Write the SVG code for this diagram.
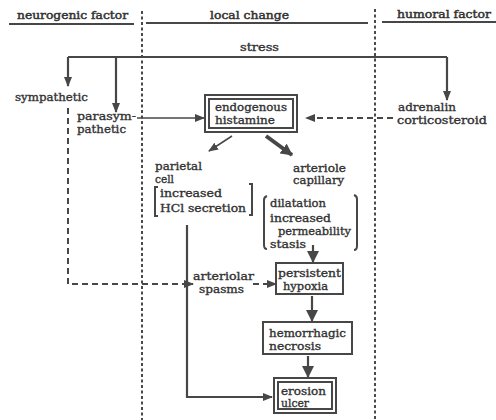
<svg xmlns="http://www.w3.org/2000/svg" width="496" height="420" viewBox="0 0 496 420">
<defs>
<style>
text{font-family:"DejaVu Serif","Liberation Serif",serif;font-size:11px;fill:#333;stroke:#333;stroke-width:0.35}
.h{font-size:11.5px;stroke-width:0.5}
.ln{stroke:#474747;fill:none}
.s{stroke-width:2.2}
.t{stroke-width:1.5}
.d{stroke-width:2;stroke-dasharray:6 4}
.div{stroke:#4a4a4a;stroke-width:2;stroke-dasharray:3 2.5;fill:none}
.box{fill:#fff;stroke:#474747;stroke-width:2}
</style>
<marker id="ah" markerWidth="10" markerHeight="8" refX="9" refY="4" orient="auto" markerUnits="userSpaceOnUse"><path d="M0,0 L10,4 L0,8 Z" fill="#474747"/></marker>
<marker id="ahb" markerWidth="12" markerHeight="12" refX="11" refY="6" orient="auto" markerUnits="userSpaceOnUse"><path d="M0,0 L12,6 L0,12 Z" fill="#474747"/></marker>
</defs>
<rect width="496" height="420" fill="#fff"/>

<g id="headers">
<text class="h" x="17" y="19" textLength="111" lengthAdjust="spacingAndGlyphs">neurogenic factor</text>
<line class="ln" x1="9" y1="24" x2="134" y2="24" stroke-width="2"/>
<text class="h" x="210" y="19" textLength="79" lengthAdjust="spacingAndGlyphs">local change</text>
<line class="ln" x1="146" y1="23" x2="368" y2="23" stroke-width="2"/>
<text class="h" x="397" y="18" textLength="94" lengthAdjust="spacingAndGlyphs">humoral factor</text>
<line class="ln" x1="382" y1="22" x2="496" y2="22" stroke-width="2"/>
<line class="div" x1="142" y1="11" x2="142" y2="420"/>
<line class="div" x1="375" y1="9" x2="375" y2="420"/>
</g>

<g id="connectors">
<path class="ln s" d="M68,57 H447"/>
<path class="ln s" d="M68,57 V86" marker-end="url(#ah)"/>
<path class="ln s" d="M116,57 V112" marker-end="url(#ah)"/>
<path class="ln s" d="M447,57 V100" marker-end="url(#ah)"/>
<path class="ln t" d="M137,118 H204" marker-end="url(#ah)"/>
<path class="ln d" d="M393,118 H306" marker-end="url(#ah)"/>
<path class="ln t" d="M232,136 L209,151" marker-end="url(#ah)"/>
<path class="ln" stroke-width="4" d="M266,136 L292,155" marker-end="url(#ahb)"/>
<path class="ln d" d="M68,108 V284 H193" marker-end="url(#ah)"/>
<path class="ln d" d="M253,284 H276" marker-end="url(#ah)"/>
<path class="ln s" d="M313,245 V262" marker-end="url(#ahb)"/>
<path class="ln s" d="M312,296 V321" marker-end="url(#ahb)"/>
<path class="ln s" d="M308,356 V377" marker-end="url(#ahb)"/>
<path class="ln s" d="M187,225 V397 H272" marker-end="url(#ah)"/>
</g>

<g id="stress"><text x="240" y="51" textLength="39" lengthAdjust="spacingAndGlyphs">stress</text></g>
<g id="sympathetic"><text x="15" y="101" textLength="73" lengthAdjust="spacingAndGlyphs">sympathetic</text></g>
<g id="parasympathetic">
<text x="77" y="120" textLength="59" lengthAdjust="spacingAndGlyphs">parasym-</text>
<text x="77" y="133" textLength="49" lengthAdjust="spacingAndGlyphs">pathetic</text>
</g>
<g id="humoral">
<text x="398" y="111" textLength="58" lengthAdjust="spacingAndGlyphs">adrenalin</text>
<text x="397" y="124" textLength="90" lengthAdjust="spacingAndGlyphs">corticosteroid</text>
</g>
<g id="histamine">
<rect class="box" x="205" y="95" width="92" height="37"/>
<rect class="box" x="209" y="99" width="84" height="29" stroke-width="1.5"/>
<text x="215" y="111" textLength="72" lengthAdjust="spacingAndGlyphs">endogenous</text>
<text x="215" y="124" textLength="60" lengthAdjust="spacingAndGlyphs">histamine</text>
</g>
<g id="parietal">
<text x="155" y="170" textLength="47" lengthAdjust="spacingAndGlyphs">parietal</text>
<text x="155" y="183" textLength="19" lengthAdjust="spacingAndGlyphs">cell</text>
<path class="ln" stroke-width="2" d="M158,187 H155 V216 H158 M249,184 H252 V215 H249"/>
<text x="160" y="197" textLength="62" lengthAdjust="spacingAndGlyphs">increased</text>
<text x="160" y="212" textLength="86" lengthAdjust="spacingAndGlyphs">HCl secretion</text>
</g>
<g id="arteriole">
<text x="293" y="172" textLength="53" lengthAdjust="spacingAndGlyphs">arteriole</text>
<text x="293" y="184" textLength="51" lengthAdjust="spacingAndGlyphs">capillary</text>
<path class="ln" stroke-width="2" d="M267,196 Q264,197 264,200 V245 Q264,249 267,249 M354,195 Q357,196 357,199 V246 Q357,250 354,250"/>
<text x="270" y="207" textLength="56" lengthAdjust="spacingAndGlyphs">dilatation</text>
<text x="270" y="222" textLength="61" lengthAdjust="spacingAndGlyphs">increased</text>
<text x="278" y="235" textLength="73" lengthAdjust="spacingAndGlyphs">permeability</text>
<text x="270" y="248" textLength="36" lengthAdjust="spacingAndGlyphs">stasis</text>
</g>
<g id="spasms">
<text x="193" y="280" textLength="61" lengthAdjust="spacingAndGlyphs">arteriolar</text>
<text x="199" y="293" textLength="45" lengthAdjust="spacingAndGlyphs">spasms</text>
</g>
<g id="hypoxia">
<rect class="box" x="276" y="263" width="67" height="31"/>
<text x="278" y="277" textLength="63" lengthAdjust="spacingAndGlyphs">persistent</text>
<text x="283" y="290" textLength="45" lengthAdjust="spacingAndGlyphs">hypoxia</text>
</g>
<g id="necrosis">
<rect class="box" x="263" y="322" width="89" height="32"/>
<text x="269" y="337" textLength="77" lengthAdjust="spacingAndGlyphs">hemorrhagic</text>
<text x="269" y="350" textLength="52" lengthAdjust="spacingAndGlyphs">necrosis</text>
</g>
<g id="erosion">
<rect class="box" x="274" y="378" width="62" height="35"/>
<rect class="box" x="278" y="382" width="54" height="27" stroke-width="1.5"/>
<text x="281" y="395" textLength="45" lengthAdjust="spacingAndGlyphs">erosion</text>
<text x="281" y="407" textLength="28" lengthAdjust="spacingAndGlyphs">ulcer</text>
</g>
</svg>
